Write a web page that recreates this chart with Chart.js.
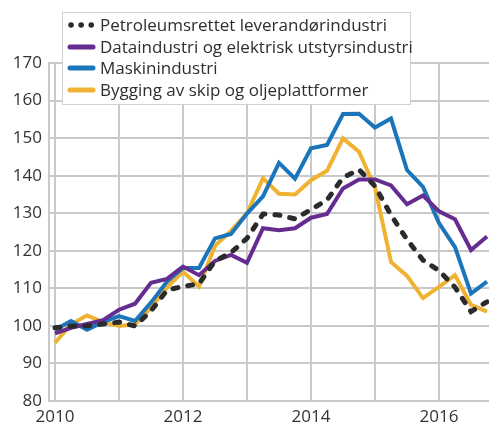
<!DOCTYPE html>
<html>
<head>
<meta charset="utf-8">
<script src="https://cdn.jsdelivr.net/npm/chart.js@4/dist/chart.umd.min.js"></script>
<style>
  body { margin: 0; background: #fff; }
  #wrap { position: relative; width: 489px; height: 440px; }
  #legend {
    position: absolute; left: 62px; top: 12px; width: 347px; height: 90px;
    border: 1px solid #d2d2d2; background: #fff;
    font-family: 'Open Sans', sans-serif; font-size: 17px; color: #2e2e2e;
    padding-top: 1px;
  }
  .item { height: 21.5px; line-height: 21.5px; white-space: nowrap; }
  .item svg { vertical-align: middle; margin-left: 4px; margin-right: 4px; position: relative; top: -1px; }
</style>
</head>
<body>
<div id="wrap">
  <canvas id="graf" width="489" height="440"></canvas>
  <div id="legend"></div>
</div>
<script>
// kvartaler 2010K1 - 2016K4
kvartaler = ['2010K1','2010K2','2010K3','2010K4','2011K1','2011K2','2011K3','2011K4',
	'2012K1','2012K2','2012K3','2012K4','2013K1','2013K2','2013K3','2013K4',
	'2014K1','2014K2','2014K3','2014K4','2015K1','2015K2','2015K3','2015K4',
	'2016K1','2016K2','2016K3','2016K4']

petroleum = [99.5, 100, 100, 100.5, 101, 100, 104, 109.5, 110.5, 111.2, 117.3, 119.5,
	123.3, 129.8, 129.5, 128.5, 131, 133.5, 139.5, 141.6, 137.2, 129.5, 123, 117.5,
	114.7, 110.3, 103.8, 106.4]
dataindustri = [98, 99.5, 100.5, 101.5, 104.3, 105.9, 111.5, 112.5, 115.8, 113.5, 117.3, 118.9,
	116.8, 126, 125.5, 126, 128.8, 129.8, 136.6, 139, 139, 137.4, 132.4, 134.7,
	130.5, 128.4, 120.2, 123.8]
maskin = [99, 101.3, 99, 101, 102.6, 101.3, 106.2, 111.8, 115.4, 115.4, 123.3, 124.5,
	129.9, 134.5, 143.4, 139.2, 147.3, 148.2, 156.4, 156.5, 152.8, 155.2, 141.5, 137,
	127.4, 121, 108.6, 111.8]
bygging = [95.5, 100.4, 102.8, 101, 100, 100.4, 104.8, 110.3, 114.4, 110.5, 121.3, 125.3,
	130, 139.3, 135.2, 135, 138.8, 141.3, 149.9, 146.4, 136.8, 117, 113.3, 107.4,
	110.4, 113.5, 105.6, 103.8]

aarTicks = [2010, 2011, 2012, 2013, 2014, 2015, 2016]
aarEtiketter = [2010, 2012, 2014, 2016]

function punkter(verdier) {
	return verdier.map(function (v, i) {
		var k = kvartaler[i]
		return { x: parseInt(k.substr(0, 4)) + (parseInt(k.substr(5)) - 1) / 4, y: v }
	})
}

Chart.defaults.font.family = "'Open Sans', sans-serif"
Chart.defaults.font.size = 17
Chart.defaults.color = '#333'

serier = [
	{ label: 'Petroleumsrettet leverandørindustri', data: punkter(petroleum), borderColor: '#2b2b2b',
		borderWidth: 5, borderDash: [5, 10], borderCapStyle: 'round' },
	{ label: 'Dataindustri og elektrisk utstyrsindustri', data: punkter(dataindustri), borderColor: '#662d91', borderWidth: 4 },
	{ label: 'Maskinindustri', data: punkter(maskin), borderColor: '#1b75bb', borderWidth: 4 },
	{ label: 'Bygging av skip og oljeplattformer', data: punkter(bygging), borderColor: '#efb232', borderWidth: 4 }
]

var grid = '#c9c9c9'
var ctx = document.getElementById('graf').getContext('2d')
var graf = new Chart(ctx, {
	type: 'line',
	data: { datasets: serier },
	options: {
		responsive: false,
		animation: false,
		layout: { padding: { top: 63, left: 0, right: 0, bottom: 0 } },
		elements: { point: { radius: 0 }, line: { tension: 0, fill: false } },
		plugins: { legend: { display: false }, tooltip: { enabled: false } },
		scales: {
			x: {
				type: 'linear',
				min: 2010 - 6 / 64,
				max: 2010 + 434 / 64,
				afterBuildTicks: function (scale) {
					scale.ticks = aarTicks.map(function (v) { return { value: v } })
				},
				afterFit: function (scale) { scale.height = 39 },
				ticks: {
					autoSkip: false, maxRotation: 0, padding: 6,
					callback: function (v) { return aarEtiketter.indexOf(v) >= 0 ? String(v) : '' }
				},
				grid: { color: grid, lineWidth: 2, drawTicks: false },
				border: { color: grid, width: 2 }
			},
			y: {
				min: 80, max: 170,
				afterFit: function (scale) { scale.width = 49 },
				ticks: { stepSize: 10, padding: 7 },
				grid: { color: grid, lineWidth: 2, drawTicks: false },
				border: { color: grid, width: 2 }
			}
		}
	}
})

// egen legende over plottet
var leg = document.getElementById('legend')
graf.data.datasets.forEach(function (d) {
	var linje = d.borderDash
		? '<line x1="4" y1="4" x2="25" y2="4" stroke="' + d.borderColor + '" stroke-width="5.5" stroke-linecap="round" stroke-dasharray="0.1 10"/>'
		: '<line x1="3" y1="4" x2="26" y2="4" stroke="' + d.borderColor + '" stroke-width="5" stroke-linecap="round"/>'
	var el = document.createElement('div')
	el.className = 'item'
	el.innerHTML = '<svg width="29" height="8">' + linje + '</svg>' + d.label
	leg.appendChild(el)
})
</script>
</body>
</html>
